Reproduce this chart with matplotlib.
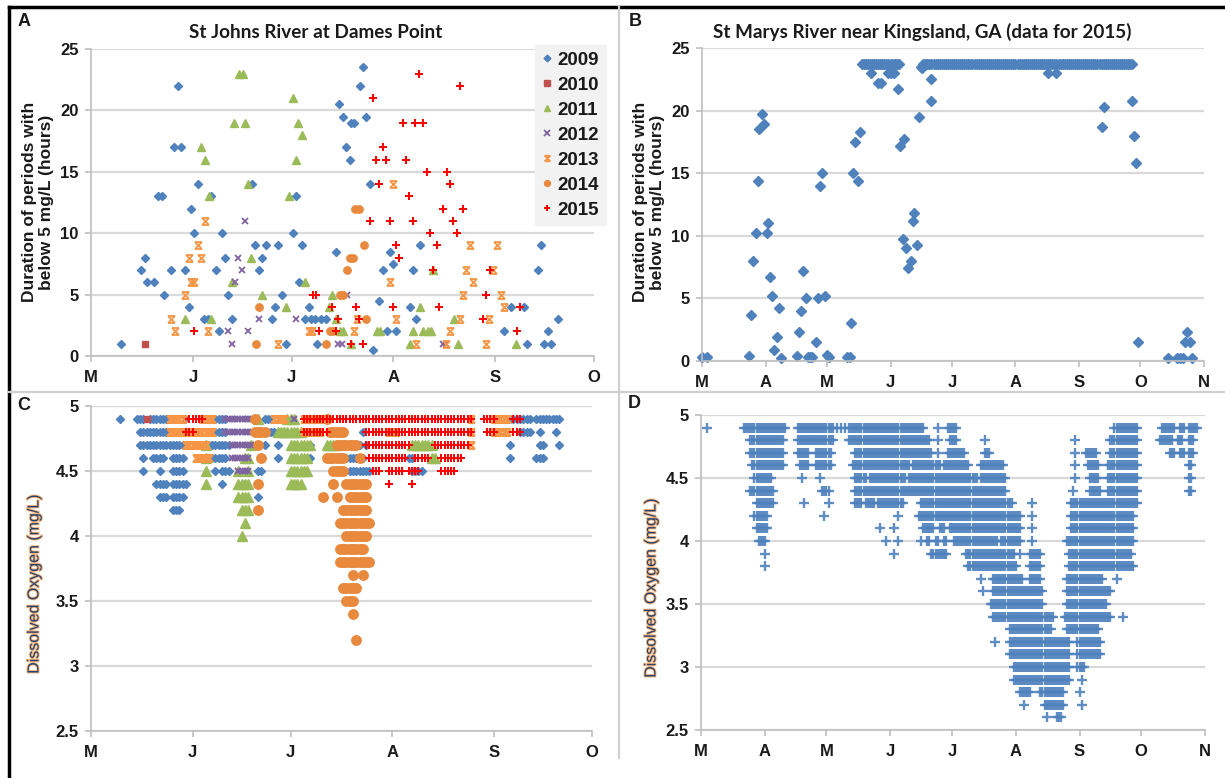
import numpy as np
import matplotlib
matplotlib.use("Agg")
import matplotlib.pyplot as plt
from matplotlib.lines import Line2D
from matplotlib.path import Path
from matplotlib import patheffects, ticker

W, H = 1225, 778

# ---------------- data ----------------
# Panel A / C: x = days since May 1 ; Panel B / D: x = days since Mar 1
YEARS = ["2009", "2010", "2011", "2012", "2013", "2014", "2015"]

A_2009 = [(9.2, 1), (15.1, 7), (16.3, 8), (17.1, 6), (19.1, 6), (20.3, 13), (21.5, 13), (22.3, 5),
          (24.3, 7), (25.3, 17), (26.5, 22), (27.4, 17), (28.6, 7), (29.8, 4), (30.3, 12), (31.4, 10),
          (32.6, 14), (34.5, 3), (35.5, 3), (36.6, 13), (38.1, 7), (38.8, 2), (39.7, 10), (40.8, 8),
          (41.8, 5), (42.9, 3), (49, 14), (50, 9), (51, 7), (52.1, 8), (53.3, 9), (55, 3), (56.1, 4),
          (57, 9), (58.2, 5), (59.3, 1), (61.5, 10), (62.5, 13), (63.2, 6), (64.3, 9), (65.1, 3),
          (66.3, 4), (66.8, 3), (68.2, 3), (68.6, 1), (69.9, 3), (71.5, 3), (74.6, 8.5), (75.5, 20.5),
          (76.6, 19.5), (77.7, 17), (78.7, 16), (79.2, 19), (80.1, 19), (81.7, 22), (82.6, 23.5),
          (83.7, 19.5), (84.9, 14), (85.8, 0.5), (87.7, 4.5), (88.8, 7), (90, 2), (91, 8.5), (91.8, 7.5),
          (92.9, 2), (96.9, 4), (98, 7), (99, 3), (100, 9), (125.6, 2), (127.8, 4), (131.7, 4),
          (132.7, 1), (135.9, 7), (136.9, 9), (137.9, 1), (138.9, 2), (139.8, 1), (142.1, 3)]
A_2010 = [(16.3, 1)]
A_2011 = [(28.7, 3), (33.6, 17), (34.8, 16), (35.8, 13), (36.6, 3), (42.9, 6), (43.6, 19), (44.9, 23),
          (46.1, 23), (46.8, 19), (47.9, 14), (48.8, 8), (52.1, 5), (59.3, 4), (60.2, 13), (61.3, 21),
          (62.5, 16), (63.1, 19), (64.3, 18), (65.2, 6), (72.3, 4), (73.4, 5), (74.6, 3), (75.6, 2),
          (76.6, 2), (79.2, 1), (87, 2), (88, 2), (96.9, 1), (98, 2), (100, 4), (101, 2), (102.4, 2),
          (103.3, 2), (104, 7), (110.3, 3), (111.5, 1), (129.4, 1)]
A_2012 = [(41.7, 2), (42.8, 1), (43.7, 6), (44.7, 8), (46, 7), (46.8, 11), (47.9, 2), (51, 3), (62.3, 3),
          (75.2, 1), (76.2, 1), (77.8, 5), (107, 1), (108, 1)]
A_2013 = [(24.3, 3), (25.5, 2), (28.6, 5), (29.7, 8), (30.3, 6), (31.2, 6), (32.6, 9), (33.6, 8),
          (34.6, 11), (35.7, 2), (57, 1), (66.2, 2), (67.1, 2), (80.1, 2), (81, 3), (90.8, 6), (91.8, 14),
          (92.9, 3), (98.9, 1), (108, 1), (109.2, 2), (112.1, 3), (113.1, 5), (114.2, 7), (115.4, 9),
          (116.3, 6), (120.1, 1), (121.2, 3), (122.3, 7), (123.4, 9), (124.6, 5), (125.5, 4)]
A_2014 = [(50.1, 1), (51.2, 4), (71.5, 1), (72.6, 2), (73.6, 2), (75.8, 5), (76.7, 5), (77.8, 7),
          (78.9, 8), (79.6, 8), (80.4, 12), (81.6, 12), (82.9, 9), (83.7, 3)]
A_2015 = [(31.4, 2), (67.4, 5), (68.3, 5), (69.4, 2), (73.2, 4), (74.6, 2), (75.2, 3), (79.2, 1),
          (80.5, 4), (81.4, 3), (82.6, 1), (84.8, 11), (85.8, 21), (86.6, 16), (87.7, 14), (88.8, 17),
          (89.7, 16), (90.8, 11), (92, 4), (92.9, 9), (93.8, 8), (94.9, 19), (95.9, 16), (96.8, 13),
          (97.9, 11), (98.7, 19), (99.9, 23), (100.9, 19), (102.1, 15), (103.1, 10), (104.1, 7),
          (105.1, 9), (106, 4), (107.1, 12), (108.2, 15), (109.1, 14), (110.2, 11), (111.3, 10),
          (112.2, 22), (113.1, 12), (119.3, 3), (120.3, 5), (121.4, 7), (129.5, 2), (130.6, 4)]

B_POINTS = [(0, 0.3), (2.5, 0.3), (23, 0.4), (24, 3.7), (25, 8), (26.2, 10.2), (27.2, 14.4), (28, 18.5),
            (29.4, 19.7), (30.4, 18.9), (31.5, 10.2), (32.3, 11), (33, 6.7), (34.4, 5.2), (35.3, 0.9),
            (36.7, 1.9), (37.4, 4.2), (38.7, 0.2), (46.5, 0.4), (47.5, 2.3), (48.4, 4), (49.4, 7.2),
            (50.9, 5), (51.7, 0.3), (52.6, 0.3), (53.6, 0.3), (55.8, 1.5), (56.6, 5), (57.7, 14),
            (58.7, 15), (60, 5.2), (60.8, 0.5), (62, 0.3), (70.7, 0.3), (72.4, 0.3), (72.9, 3),
            (73.9, 15), (74.6, 17.5), (76.2, 14.4), (77.1, 18.3), (82.4, 23), (86, 22.2), (87.4, 22.2),
            (90.8, 23), (92, 23), (93.6, 23), (95.7, 21.7), (96.5, 17.2), (98, 9.75), (98.6, 17.7),
            (99.7, 9), (100.7, 7.4), (101.8, 8), (102.8, 11.2), (103.7, 11.8), (104.8, 9.25),
            (106, 19.5), (106.9, 23.45), (107.5, 23.4), (111.7, 22.5), (112, 20.8), (168.7, 23),
            (172.8, 23), (195, 18.7), (196, 20.3), (210, 20.8), (211, 18), (212, 15.8), (213, 1.5),
            (227.5, 0.2), (231.9, 0.2), (233.4, 0.2), (234.8, 0.2), (235.9, 1.5), (236.8, 2.3),
            (238.2, 1.5), (239.1, 0.2)]
# daily runs sitting at the 23.75 h ceiling
B_FULL_LEVEL = 23.75
B_FULL_RUNS = [(78, 88), (89, 96), (108, 210)]

# panel C: (DO level, first day, last day) runs of daily points
C_2009 = [(4.9, 9, 9), (4.9, 14, 16), (4.9, 18, 24), (4.9, 38, 41), (4.9, 53, 55), (4.9, 128, 134),
          (4.9, 136, 143), (4.8, 15, 24), (4.8, 37, 41), (4.8, 53, 57), (4.8, 83, 83), (4.8, 131, 134),
          (4.8, 137, 137), (4.8, 142, 142), (4.7, 15, 28), (4.7, 36, 42), (4.7, 53, 53), (4.7, 57, 57),
          (4.7, 67, 67), (4.7, 82, 82), (4.7, 84, 84), (4.7, 128, 128), (4.7, 137, 138), (4.7, 143, 143),
          (4.6, 16, 16), (4.6, 19, 22), (4.6, 25, 28), (4.6, 36, 41), (4.6, 57, 57), (4.6, 67, 67),
          (4.6, 78, 83), (4.6, 97, 98), (4.6, 128, 128), (4.6, 136, 138), (4.5, 16, 16), (4.5, 21, 21),
          (4.5, 25, 28), (4.5, 38, 38), (4.5, 40, 42), (4.5, 51, 52), (4.5, 79, 85), (4.5, 98, 101),
          (4.4, 20, 23), (4.4, 25, 29), (4.4, 40, 40), (4.4, 84, 84), (4.3, 21, 23), (4.3, 25, 28),
          (4.3, 51, 51), (4.3, 84, 84), (4.2, 25, 27)]
C_2010 = [(4.9, 17, 17)]
C_2011 = [(4.9, 51, 51), (4.9, 60, 62), (4.8, 57, 64), (4.7, 35, 35), (4.7, 49, 49), (4.7, 61, 67),
          (4.7, 72, 75), (4.7, 98, 104), (4.6, 35, 35), (4.6, 47, 48), (4.6, 61, 66), (4.6, 104, 105),
          (4.5, 35, 35), (4.5, 45, 45), (4.5, 48, 48), (4.5, 61, 66), (4.4, 35, 35), (4.4, 45, 48),
          (4.4, 61, 64), (4.3, 45, 48), (4.2, 46, 48), (4.1, 47, 47), (4.0, 46, 46)]
C_2012 = [(4.9, 29, 29), (4.9, 41, 49), (4.9, 62, 62), (4.8, 41, 49), (4.8, 66, 66), (4.7, 43, 49),
          (4.6, 43, 48), (4.5, 45, 48)]
C_2013 = [(4.9, 24, 28), (4.9, 34, 37), (4.9, 56, 59), (4.9, 65, 70), (4.9, 116, 116), (4.9, 123, 127),
          (4.8, 24, 30), (4.8, 32, 37), (4.8, 65, 70), (4.8, 91, 93), (4.8, 116, 116), (4.8, 123, 127),
          (4.7, 29, 35), (4.7, 116, 116), (4.6, 32, 36)]
C_2014 = [(4.9, 50, 50), (4.9, 72, 72), (4.8, 50, 53), (4.8, 73, 77), (4.7, 51, 51), (4.7, 75, 81),
          (4.6, 52, 52), (4.6, 72, 77), (4.6, 82, 82), (4.5, 74, 77), (4.4, 51, 51), (4.4, 74, 74),
          (4.4, 78, 84), (4.3, 71, 71), (4.3, 75, 75), (4.3, 79, 84), (4.2, 51, 51), (4.2, 77, 84),
          (4.1, 76, 85), (4.0, 78, 84), (3.9, 76, 83), (3.8, 76, 85), (3.7, 80, 80), (3.7, 83, 83),
          (3.6, 77, 81), (3.5, 78, 80), (3.4, 80, 80), (3.2, 81, 81)]
C_2015 = [(4.9, 30, 34), (4.9, 65, 116), (4.9, 120, 123), (4.9, 129, 131), (4.8, 29, 31), (4.8, 65, 72),
          (4.8, 84, 116), (4.8, 121, 123), (4.8, 129, 131), (4.7, 84, 97), (4.7, 105, 115),
          (4.6, 85, 96), (4.6, 99, 103), (4.6, 107, 113), (4.5, 86, 88), (4.5, 91, 95), (4.5, 97, 100),
          (4.5, 107, 111), (4.4, 91, 91), (4.4, 98, 98)]

# panel D: DO levels and, for each, runs of daily points (first day, last day)
D_LEVELS = [4.9, 4.8, 4.7, 4.6, 4.5, 4.4, 4.3, 4.2, 4.1, 4.0, 3.9, 3.8, 3.7, 3.6, 3.5, 3.4, 3.3, 3.2,
            3.1, 3.0, 2.9, 2.8, 2.7, 2.6]
D_RUNS = [
    [(3, 3), (21, 41), (47, 64), (66, 66), (68, 68), (70, 70), (72, 108), (115, 115), (120, 124),
     (201, 212), (224, 230), (233, 235), (237, 241)],
    [(24, 40), (47, 64), (72, 111), (115, 115), (121, 124), (138, 138), (182, 182), (199, 212),
     (223, 229), (232, 234), (237, 239)],
    [(24, 40), (47, 52), (56, 63), (75, 112), (115, 115), (120, 128), (138, 140), (182, 182),
     (187, 192), (199, 212), (228, 230), (233, 235), (237, 239)],
    [(25, 40), (48, 52), (56, 63), (74, 101), (103, 116), (118, 130), (136, 147), (182, 182),
     (188, 193), (198, 212), (237, 238)],
    [(26, 34), (49, 49), (58, 58), (75, 80), (82, 99), (101, 134), (136, 148), (182, 182), (189, 193),
     (198, 212), (237, 238)],
    [(24, 35), (59, 62), (75, 148), (181, 181), (189, 194), (198, 212), (237, 238)],
    [(27, 35), (50, 50), (62, 62), (75, 78), (80, 84), (86, 98), (107, 151), (161, 161), (180, 212)],
    [(26, 32), (60, 60), (96, 96), (106, 155), (161, 161), (180, 210)],
    [(27, 32), (87, 87), (94, 94), (108, 113), (116, 118), (121, 155), (161, 161), (180, 210)],
    [(28, 31), (90, 90), (96, 96), (107, 107), (110, 111), (114, 115), (118, 119), (123, 144),
     (146, 155), (161, 161), (178, 210)],
    [(31, 31), (94, 94), (112, 119), (129, 152), (155, 155), (160, 165), (179, 209)],
    [(31, 31), (130, 153), (160, 165), (179, 210)],
    [(136, 136), (142, 156), (160, 165), (178, 195), (202, 202)],
    [(137, 137), (142, 166), (178, 199)],
    [(141, 166), (178, 197)],
    [(142, 171), (177, 199), (205, 205)],
    [(150, 170), (178, 193)],
    [(143, 143), (150, 179), (183, 194)],
    [(150, 179), (183, 194)],
    [(152, 179), (183, 186)],
    [(152, 179), (185, 185)],
    [(155, 160), (165, 176), (184, 184)],
    [(157, 157), (167, 176), (185, 185)],
    [(168, 168), (173, 175)],
]

MAY_TICKS = [0, 31, 61, 92, 123, 153]
MAY_LABELS = ["M", "J", "J", "A", "S", "O"]
MAR_TICKS = [0, 31, 61, 92, 122, 153, 184, 214, 245]
MAR_LABELS = ["M", "A", "M", "J", "J", "A", "S", "O", "N"]

# ---------------- style ----------------
plt.rcParams["font.family"] = ["Liberation Sans", "DejaVu Sans"]
plt.rcParams["font.weight"] = "bold"
BLUE = "#4F81BD"
COLORS = ["#4F81BD", "#C0504D", "#9BBB59", "#8064A2", "#F79646", "#E8893D", "#FF0000"]
STAR = Path([(-1, -1), (1, 1), (-1, 1), (1, -1), (-1, 1), (1, 1), (-1, -1), (1, -1)],
            [Path.MOVETO, Path.LINETO] * 4)
A_STYLE = [dict(marker="D", ms=4.3), dict(marker="s", ms=5), dict(marker="^", ms=5.5),
           dict(marker="x", ms=5, mew=1.3), dict(marker=STAR, ms=5, mew=1.3, mfc="none"),
           dict(marker="o", ms=5.3), dict(marker="P", ms=5.4, mew=0)]
C_STYLE = [dict(marker="D", ms=4.0), dict(marker="s", ms=4.5), dict(marker="^", ms=6.5),
           dict(marker="x", ms=5, mew=1.5), dict(marker=STAR, ms=5, mew=1.5, mfc="none"),
           dict(marker="o", ms=6.8), dict(marker="P", ms=6.0, mew=0)]

GRID = "#D9D9D9"
AXIS = "#BFBFBF"


def expand_c(runs):
    xs, ys = [], []
    for level, a, b in runs:
        days = np.arange(a, b + 1)
        xs.extend(days)
        ys.extend([level] * len(days))
    return np.array(xs, dtype=float), np.array(ys, dtype=float)


def fig_xy(x, y):
    return x / W, 1 - y / H


def add_axes_px(fig, left, top, right, bottom):
    return fig.add_axes([left / W, 1 - bottom / H, (right - left) / W, (bottom - top) / H])


def style_axes(ax, xticks, xlabels, xmax, ylim, ystep):
    ax.set_xlim(0, xmax)
    ax.set_ylim(*ylim)
    ax.set_xticks(xticks)
    ax.set_xticklabels(xlabels)
    ax.set_yticks(np.arange(ylim[0], ylim[1] + ystep / 2, ystep))
    ax.yaxis.set_major_formatter(ticker.FormatStrFormatter("%g"))
    ax.yaxis.grid(True, color=GRID, lw=1.6)
    ax.set_axisbelow(True)
    for s in ["top", "right"]:
        ax.spines[s].set_visible(False)
    for s in ["left", "bottom"]:
        ax.spines[s].set_color(AXIS)
        ax.spines[s].set_linewidth(1.2)
    ax.tick_params(axis="both", length=4, width=1.2, color=AXIS, labelsize=12,
                   labelcolor="#1a1a1a")
    ax.tick_params(axis="x", pad=6)
    ax.tick_params(axis="y", pad=5)


fig = plt.figure(figsize=(W / 100, H / 100), dpi=100)

# ---- panel A ----
axA = add_axes_px(fig, 91, 49, 594, 356)
for data, color, st in zip([A_2009, A_2010, A_2011, A_2012, A_2013, A_2014, A_2015], COLORS, A_STYLE):
    xs = [p[0] for p in data]
    ys = [p[1] for p in data]
    kw = dict(st)
    kw.setdefault("mec", color)
    kw.setdefault("mfc", color)
    axA.plot(xs, ys, ls="none", clip_on=False, **kw)
style_axes(axA, MAY_TICKS, MAY_LABELS, 153, (0, 25), 5)
handles = []
for color, st in zip(COLORS, A_STYLE):
    kw = dict(st)
    kw["ms"] = kw["ms"] * 0.8
    kw.setdefault("mec", color)
    kw.setdefault("mfc", color)
    handles.append(Line2D([], [], ls="none", **kw))
leg = axA.legend(handles, YEARS, loc="upper left", bbox_to_anchor=fig_xy(535, 45),
                 bbox_transform=fig.transFigure, frameon=True, fancybox=False,
                 facecolor="#F2F2F2", edgecolor="#F2F2F2", framealpha=1,
                 prop=dict(weight="bold", size=13.5), handlelength=0.6, handletextpad=0.25,
                 labelspacing=0.42, borderpad=0.35, borderaxespad=0)
for t in leg.get_texts():
    t.set_color("#1a1a1a")

# ---- panel B ----
axB = add_axes_px(fig, 702, 48, 1204, 361)
bx = [p[0] for p in B_POINTS]
by = [p[1] for p in B_POINTS]
for a, b in B_FULL_RUNS:
    days = list(np.arange(a, b + 1))
    bx.extend(days)
    by.extend([B_FULL_LEVEL] * len(days))
axB.plot(bx, by, ls="none", marker="D", ms=5.2, color=BLUE, clip_on=False)
style_axes(axB, MAR_TICKS, MAR_LABELS, 245, (0, 25), 5)

# ---- panel C ----
axC = add_axes_px(fig, 91, 406, 592, 731)
for runs, color, st in zip([C_2009, C_2010, C_2011, C_2012, C_2013, C_2014, C_2015], COLORS, C_STYLE):
    xs, ys = expand_c(runs)
    kw = dict(st)
    kw.setdefault("mec", color)
    kw.setdefault("mfc", color)
    axC.plot(xs, ys, ls="none", clip_on=False, **kw)
style_axes(axC, MAY_TICKS, MAY_LABELS, 153, (2.5, 5), 0.5)

# ---- panel D ----
axD = add_axes_px(fig, 701, 415, 1205, 730)
dx, dy = [], []
for level, runs in zip(D_LEVELS, D_RUNS):
    for a, b in runs:
        days = np.arange(a, b + 1)
        dx.extend(days)
        dy.extend([level] * len(days))
axD.plot(dx, dy, ls="none", marker="+", ms=6.5, mew=1.7, color=BLUE, alpha=0.9, clip_on=False)
style_axes(axD, MAR_TICKS, MAR_LABELS, 245, (2.5, 5), 0.5)

# ---- titles, labels ----
title_font = dict(family=["Lato", "DejaVu Sans"], weight="bold", size=13.6, color="#1a1a1a")
fig.text(*fig_xy(316, 33), "St Johns River at Dames Point", ha="center", va="center", **title_font)
fig.text(*fig_xy(922, 32), "St Marys River near Kingsland, GA (data for 2015)", ha="center",
         va="center", **title_font)

for lab, x, y in [("A", 18, 22), ("B", 629, 22), ("C", 17, 405), ("D", 628, 404)]:
    fig.text(*fig_xy(x, y), lab, ha="left", va="center", weight="bold", size=13, color="#1a1a1a")

for x in (38, 649):
    fig.text(*fig_xy(x, 202), "Duration of periods with\nbelow 5 mg/L (hours)", rotation=90,
             ha="center", va="center", weight="bold", size=12.5, color="#1a1a1a",
             multialignment="center")

glow = [patheffects.withStroke(linewidth=1.4, foreground="#F5B37A")]
for x, y in ((34, 584), (651, 588)):
    fig.text(*fig_xy(x, y), "Dissolved Oxygen (mg/L)", rotation=90, ha="center", va="center",
             size=11.5, weight="normal", color="#23416F", path_effects=glow)

# ---- frame and panel dividers ----
for (x0, y0), (x1, y1), c, lw in [((9, 7), (1225, 7), "black", 2.5),
                                  ((9, 7), (9, 778), "black", 2.5),
                                  ((619, 7), (619, 758), "#D0D0D0", 1.6),
                                  ((9, 392), (1225, 392), "#D0D0D0", 1.6)]:
    fig.add_artist(Line2D([x0 / W, x1 / W], [1 - y0 / H, 1 - y1 / H], color=c, lw=lw,
                          transform=fig.transFigure))

fig.savefig("out.png", dpi=100)
